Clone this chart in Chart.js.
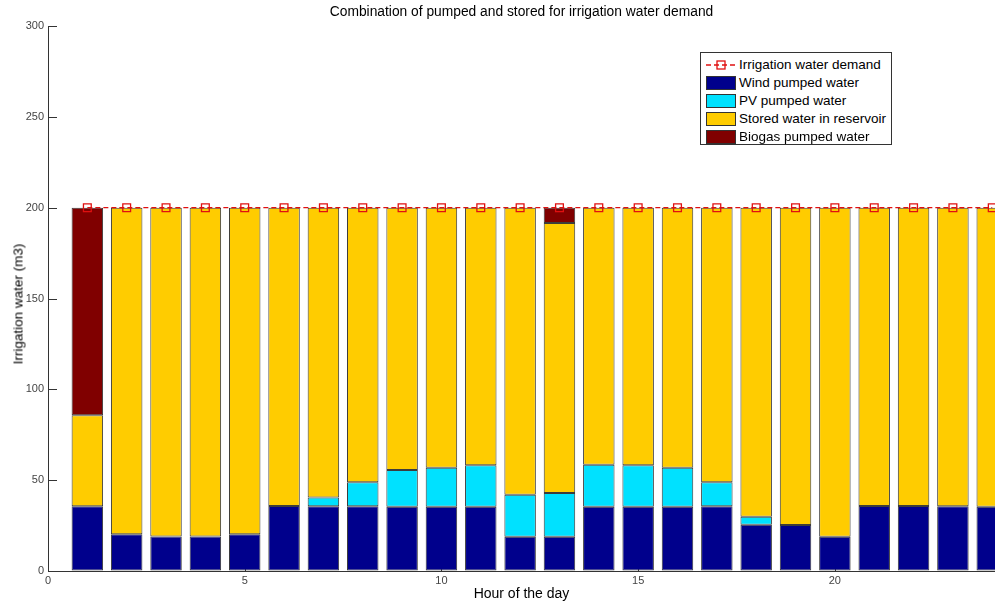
<!DOCTYPE html>
<html>
<head>
<meta charset="utf-8">
<script src="https://cdn.jsdelivr.net/npm/chart.js@4"></script>
<style>
  html, body { margin: 0; padding: 0; background: #fff; }
  #wrap { position: relative; width: 995px; height: 604px; font-family: "Liberation Sans", Arial, sans-serif; }
  #c { position: absolute; left: 0; top: 0; }
  .title { position: absolute; left: 48px; width: 947px; top: 4px; text-align: center; font-size: 13.8px; color: #000; }
  .xtitle { position: absolute; left: 48px; width: 947px; top: 585px; text-align: center; font-size: 14px; color: #000; }
  .ytitle { position: absolute; left: 18px; top: 304px; font-size: 13.5px; color: #000; white-space: nowrap;
            transform: translate(-50%, -50%) rotate(-90deg); }
  #legend { position: absolute; left: 700px; top: 52px; width: 192px; height: 93px; border: 1px solid #333;
            background: #fff; box-sizing: border-box; padding-top: 3px; }
  .item { position: relative; height: 18px; font-size: 13.5px; line-height: 18px; color: #000; }
  .item .sw { position: absolute; left: 5px; top: 2px; width: 30px; height: 14px; box-sizing: border-box; border: 1px solid #333; }
  .item .ln { position: absolute; left: 5px; top: 2px; width: 30px; height: 14px; }
  .item .tx { position: absolute; left: 38px; top: 0; white-space: nowrap; }
</style>
</head>
<body>
<div id="wrap">
  <canvas id="c" width="995" height="604"></canvas>
  <div class="title">Combination of pumped and stored for irrigation water demand</div>
  <div class="xtitle">Hour of the day</div>
  <div class="ytitle">Irrigation water (m3)</div>
  <div id="legend"></div>
</div>
<script>
// Hours of the day
const hours = [1, 2, 3, 4, 5, 6, 7, 8, 9, 10, 11, 12, 13, 14, 15, 16, 17, 18, 19, 20, 21, 22, 23, 24];

// Water supplied per hour (m3), by source
const windPumped = [35.6, 20.2, 19.0, 19.0, 20.2, 35.8, 35.6, 35.6, 35.4, 35.4, 35.4, 18.9,
                    18.9, 35.4, 35.4, 35.4, 35.6, 25.4, 25.3, 18.9, 35.8, 35.8, 35.6, 35.4];
const pvPumped = [null, null, null, null, null, null, 4.8, 13.2, 20.2, 21.5, 22.8, 23.1,
                  24.0, 23.1, 22.8, 21.5, 13.2, 4.5, null, null, null, null, null, null];
const storedWater = [50.1, 179.8, 181.0, 181.0, 179.8, 164.2, 159.6, 151.2, 144.4, 143.1, 141.8, 158.0,
                     148.6, 141.5, 141.8, 143.1, 151.2, 170.1, 174.7, 181.1, 164.2, 164.2, 164.4, 164.6];
const biogasPumped = [114.3, null, null, null, null, null, null, null, null, null, null, null,
                      8.5, null, null, null, null, null, null, null, null, null, null, null];
const waterDemand = [200, 200, 200, 200, 200, 200, 200, 200, 200, 200, 200, 200,
                     200, 200, 200, 200, 200, 200, 200, 200, 200, 200, 200, 200];

const yTicks = [0, 50, 100, 150, 200, 250, 300];
const xTicks = [0, 5, 10, 15, 20];

const pts = arr => hours.map((h, i) => ({ x: h, y: arr[i] }));

const COL = {
  wind: '#00008c',
  pv: '#00e1ff',
  stored: '#ffcc00',
  biogas: '#800000',
  demand: '#e01010'
};

const barStyle = (label, data, color) => ({
  type: 'bar', label, data: pts(data), backgroundColor: color,
  borderColor: '#3c3c3c', borderWidth: 1, borderSkipped: false,
  barPercentage: 0.8, categoryPercentage: 1.0, stack: 'water', order: 2
});

// Inward tick marks along both axes
const inwardTicks = {
  id: 'inwardTicks',
  beforeDatasetsDraw(chart) {
    const { ctx, chartArea: a, scales: { x, y } } = chart;
    ctx.save();
    ctx.strokeStyle = '#333';
    ctx.lineWidth = 1;
    ctx.beginPath();
    y.ticks.forEach(t => {
      const py = Math.round(y.getPixelForValue(t.value)) + 0.5;
      ctx.moveTo(a.left, py); ctx.lineTo(a.left + 9, py);
    });
    x.ticks.forEach(t => {
      const px = Math.round(x.getPixelForValue(t.value)) + 0.5;
      ctx.moveTo(px, a.bottom); ctx.lineTo(px, a.bottom - 9);
    });
    ctx.stroke();
    ctx.restore();
  }
};

const chart = new Chart(document.getElementById('c'), {
  data: {
    datasets: [
      {
        type: 'line', label: 'Irrigation water demand', data: pts(waterDemand),
        borderColor: COL.demand, borderWidth: 1.2, borderDash: [5, 3],
        pointStyle: 'rect', pointRadius: 5.5, pointBorderWidth: 1.3,
        pointBorderColor: COL.demand, pointBackgroundColor: 'rgba(0,0,0,0)',
        fill: false, stack: 'demand', order: 1, clip: false
      },
      barStyle('Wind pumped water', windPumped, COL.wind),
      barStyle('PV pumped water', pvPumped, COL.pv),
      barStyle('Stored water in reservoir', storedWater, COL.stored),
      barStyle('Biogas pumped water', biogasPumped, COL.biogas)
    ]
  },
  options: {
    responsive: false,
    animation: false,
    devicePixelRatio: 1,
    layout: { autoPadding: false, padding: { top: 26, left: 0, right: 0, bottom: 0 } },
    plugins: { legend: { display: false }, tooltip: { enabled: false }, title: { display: false } },
    scales: {
      x: {
        type: 'linear', min: 0, max: 24.07, stacked: true, offset: false,
        afterFit: s => { s.height = 33; s.paddingRight = 0; s.paddingLeft = 0; },
        afterBuildTicks: s => { s.ticks = xTicks.map(v => ({ value: v })); },
        ticks: { font: { family: 'Liberation Sans', size: 11 }, color: '#444', padding: 3, maxRotation: 0 },
        grid: { drawOnChartArea: false, drawTicks: false, offset: false },
        border: { display: true, color: '#333', width: 1 }
      },
      y: {
        type: 'linear', min: 0, max: 300, stacked: true,
        afterFit: s => { s.width = 48; s.paddingTop = 0; s.paddingBottom = 0; },
        afterBuildTicks: s => { s.ticks = yTicks.map(v => ({ value: v })); },
        ticks: { font: { family: 'Liberation Sans', size: 11 }, color: '#444', padding: 4 },
        grid: { drawOnChartArea: false, drawTicks: false },
        border: { display: true, color: '#333', width: 1 }
      }
    }
  },
  plugins: [inwardTicks]
});

// Legend built from the chart's datasets
const legend = document.getElementById('legend');
chart.data.datasets.forEach(ds => {
  const item = document.createElement('div');
  item.className = 'item';
  if (ds.type === 'line') {
    item.innerHTML = '<svg class="ln" width="30" height="14"><line x1="0" y1="7" x2="30" y2="7" stroke="' +
      ds.borderColor + '" stroke-width="1.3" stroke-dasharray="5,3"/><rect x="11" y="3" width="8" height="8" fill="none" stroke="' +
      ds.borderColor + '" stroke-width="1.3"/></svg>';
  } else {
    item.innerHTML = '<div class="sw" style="background:' + ds.backgroundColor + '"></div>';
  }
  const tx = document.createElement('span');
  tx.className = 'tx';
  tx.textContent = ds.label;
  item.appendChild(tx);
  legend.appendChild(item);
});
</script>
</body>
</html>
